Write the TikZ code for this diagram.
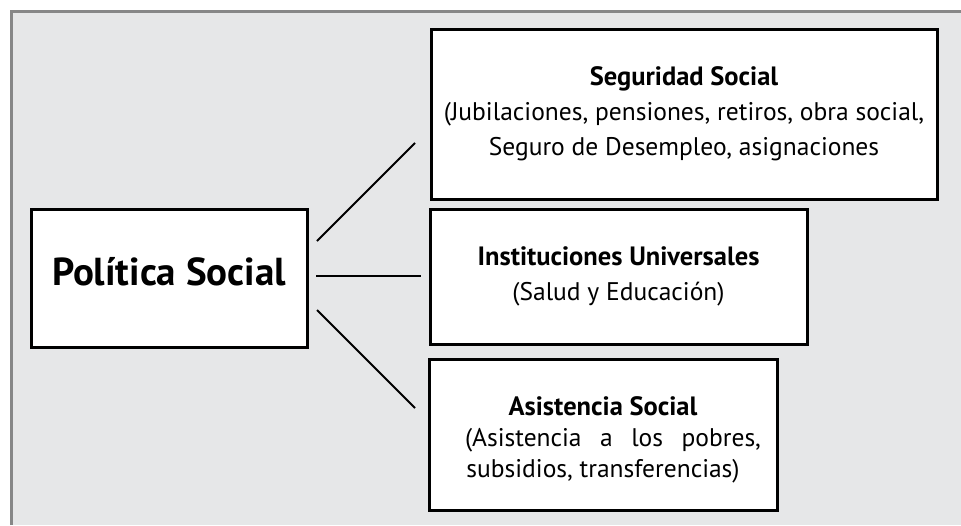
\documentclass[tikz,border=0pt]{standalone}
\usepackage{fontspec}
\setmainfont{PT Sans}
\usepackage{tikz}

\definecolor{panel}{HTML}{E6E7E8}
\definecolor{frame}{HTML}{878787}
\newcommand{\boxtitle}[1]{{\fontsize{26.5}{35}\selectfont\bfseries #1}}

\begin{document}
\begin{tikzpicture}[x=1pt,y=-1pt,
    box/.style={draw=black,line width=3pt,fill=white,inner sep=0pt,align=center,
                font={\fontsize{25.5}{35}\selectfont}},
    link/.style={line width=2pt}]
  \useasboundingbox (0,0) rectangle (961,525);

  % Background panel and its frame (only top and left show).
  \fill[panel] (11,11) rectangle (961,525);
  \draw[frame,line width=3pt] (11,525) -- (11,11) -- (961,11);

  % Main box.
  \node[box,minimum width=276pt,minimum height=138pt,text height=27pt,text depth=13pt]
    (pol) at (169,278) {\fontsize{39}{39}\selectfont\bfseries Política Social};

  % The three branches.
  \node[box,minimum width=506pt,minimum height=170pt] (seg) at (684,114)
    {\boxtitle{Seguridad Social}\\
     (Jubilaciones, pensiones, retiros, obra social,\\
     Seguro de Desempleo, asignaciones};
  \node[box,minimum width=377pt,minimum height=135pt] (inst) at (618.5,276.5)
    {\boxtitle{Instituciones Universales}\\
     (Salud y Educación)};
  \node[box,minimum width=348pt,minimum height=151pt,
        font={\fontsize{25.5}{31}\selectfont}] (asis) at (603,434.5)
    {\rule{0pt}{30pt}\boxtitle{Asistencia Social}\\
     \hspace*{20pt}\makebox[296pt][s]{(Asistencia a los pobres,}\\
     subsidios, transferencias)};

  % Free ends of the connectors (they stop short of the boxes).
  \coordinate (p1) at (317,241);
  \coordinate (p2) at (316,276);
  \coordinate (p3) at (317,310);
  \coordinate (q1) at (415,143);
  \coordinate (q2) at (421,276);
  \coordinate (q3) at (415,408);

  \draw[link] (p1) -- (q1);
  \draw[link] (p2) -- (q2);
  \draw[link] (p3) -- (q3);
\end{tikzpicture}
\end{document}
